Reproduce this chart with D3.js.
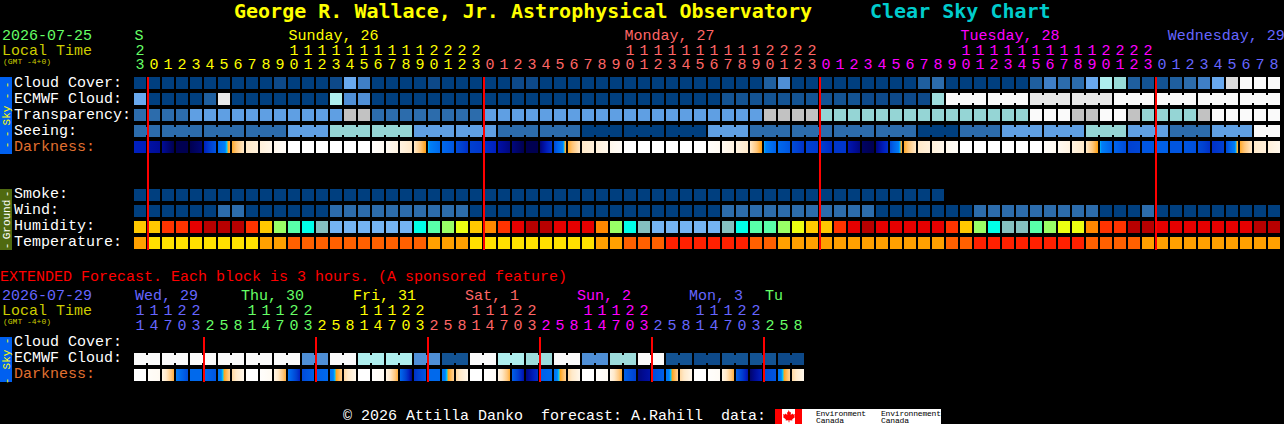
<!DOCTYPE html>
<html>
<head>
<meta charset="utf-8">
<title>Clear Sky Chart</title>
<script src="https://cdn.jsdelivr.net/npm/d3@7"></script>
<style>
html, body { margin: 0; padding: 0; background: #000; overflow: hidden; }
text { font-family: "Liberation Mono", "DejaVu Sans Mono", monospace; font-size: 15px; white-space: pre; }
.title { font-family: "DejaVu Sans Mono", monospace; }
</style>
</head>
<body>
<script>
// tick labels
var hourTicks = [23].concat(d3.range(24), d3.range(24), d3.range(24), d3.range(9));
var hourColors = [['#66ff66', 1], ['#ffff00', 24], ['#ff6666', 24], ['#ff00ff', 24], ['#6666ff', 9]];
var dayLabels = [
	['S', 0, '#66ff66'], ['Sunday, 26', 11, '#ffff00'], ['Monday, 27', 35, '#ff6666'],
	['Tuesday, 28', 59, '#ff00ff'], ['Wednesday, 29', 73.8, '#6666ff']
];
var extHourTicks = [11, 14, 17, 20, 23].concat(
	[2, 5, 8, 11, 14, 17, 20, 23], [2, 5, 8, 11, 14, 17, 20, 23], [2, 5, 8, 11, 14, 17, 20, 23],
	[2, 5, 8, 11, 14, 17, 20, 23], [2, 5, 8, 11, 14, 17, 20, 23], [2, 5, 8]);
var extHourColors = [['#6666ff', 5], ['#66ff66', 8], ['#ffff00', 8], ['#ff6666', 8], ['#ff00ff', 8], ['#6666ff', 8], ['#66ff66', 3]];
var extDayLabels = [
	['Wed, 29', 0.07, '#6666ff'], ['Thu, 30', 7.64, '#66ff66'], ['Fri, 31', 15.64, '#ffff00'], ['Sat, 1', 23.64, '#ff6666'],
	['Sun, 2', 31.64, '#ff00ff'], ['Mon, 3', 39.64, '#6666ff'], ['Tu', 45.07, '#66ff66']
];
var topRowNames = ['Cloud Cover:', 'ECMWF Cloud:', 'Transparency:', 'Seeing:', 'Darkness:'];
var groundRowNames = ['Smoke:', 'Wind:', 'Humidity:', 'Temperature:'];
var extRowNames = ['Cloud Cover:', 'ECMWF Cloud:', 'Darkness:'];
var midnightCols = [1, 25, 49, 73];
var extMidnightCols = [5, 13, 21, 29, 37, 45];

// hourly rows, one value a block
var cloudCover = [0,0,0,0,0,0,0,0,0,0, 5,0,0,0,5,50,30,0,0,0, 0,5,0,0,0,0,0,5,5,0,
	0,0,0,0,0,0,0,0,0,0, 0,0,0,0,0,15,40,0,0,0, 0,0,0,0,0,0,15,20,0,0,
	0,0,0,0,15,30,20,20,50,70, 60,15,10,10,15,20,30,50,85,100, 100,100];
var ecmwfHourly = [50,0,0,0,0,15,90,0,0,0, 0,0,0,0,70,40,40,0,0,0, 0,0,0,0,0,0,0,0,0,0,
	0,0,0,0,0,0,0,0,0,0, 0,0,10,10,10,10,10,10,10,10, 10,10,5,5,5,5,5,65];
var ecmwfBlocks = [100, 100, 90, 90, 100, 100, 100, 100];
var transparency = [1,1,1,1,2,2,2,2,2,2, 2,2,2,2,2,4,4,1,1,1, 1,1,1,1,1,2,2,2,2,2,
	2,2,2,2,2,2,2,2,2,2, 2,2,2,2,2,4,4,4,4,3, 3,3,3,3,3,3,3,3,3,3,
	3,3,3,3,5,5,5,4,4,5, 5,4,3,3,3,3,4,5,5,5, 5,5];
var seeingBlocks = [1,1,1,1,2,3,3,2,2,1, 1,0,0,0,2,1,1,1,1,0, 1,2,2,3,2,1,2,5];
var smoke = [0,0,0,0,0,0,0,0,0,0, 0,0,0,0,0,0,0,0,0,0, 0,0,0,0,0,0,0,0,0,0,
	0,0,0,0,0,0,0,0,0,0, 0,0,0,0,0,0,0,0,0,0, 0,0,0,0,0,0,0,0];
var wind = [0,0,0,0,0,0,1,1,0,0, 0,0,0,0,1,1,1,1,1,1, 1,1,1,1,0,0,0,0,0,0,
	0,0,0,0,0,0,0,0,0,0, 0,0,1,1,1,1,1,1,1,1, 1,1,1,0,0,0,0,0,0,0,
	1,1,1,1,1,1,1,1,1,0, 0,0,1,0,0,0,0,0,0,0, 0,0];
var humidity = [60,60,80,80,90,100,100,100,80,60, 50,45,40,35,30,30,30,30,30,30, 40,45,50,55,60,70,80,90,100,100,
	90,90,90,70,50,40,35,30,30,30, 30,30,35,40,45,45,50,55,60,60, 80,90,100,90,90,90,90,90,80,60,
	50,40,35,35,45,50,55,55,70,80, 80,100,100,90,90,90,90,90,90,90, 100,100];
var temperature = [1,0,0,0,0,0,0,0,0,1, 1,2,2,2,2,2,2,2,2,2, 2,1,1,1,0,0,0,0,0,0,
	0,0,0,1,1,2,2,2,3,3, 3,3,3,3,2,2,1,1,1,1, 1,1,1,1,1,1,1,1,2,2,
	3,3,3,3,3,3,3,3,2,2, 2,2,1,1,1,1,1,1,1,1, 1,1];
// darkness as limiting magnitude at the two edges of each block
var darkness = [[4.5,4.6],[5,5.2],[5.2,6],[6,6.2],[6,5.6],[4.5,2.5],[1.5,-0.6],[-0.4,-2],[-2,-2.5],[-2.5,-3],
	[-3,-3.5],[-4,-4],[-4,-4],[-4,-4],[-4,-4],[-4,-4],[-4,-4],[-3.7,-3.2],[-3.2,-2.7],[-2.7,-2],
	[-2,-0.2],[0,1.5],[1.5,2.5],[3,4],[3.5,3.8],[4,4.5],[5,5.5],[5.5,6],[6,6.2],[5.6,3.8],
	[3,-0.6],[-0.4,-2],[-2,-2.5],[-2.5,-3],[-3,-3.5],[-4,-4],[-4,-4],[-4,-4],[-4,-4],[-4,-4],
	[-4,-4],[-3.7,-3.2],[-3.2,-2.7],[-2.7,-2],[-2,-0.2],[0,2],[1.5,2.5],[3,4],[3.5,3.7],[3.5,4.2],
	[3.8,3.8],[4.8,5.5],[5.8,6],[5.5,4],[3,-0.6],[-0.4,-2],[-2,-2.5],[-2.5,-3],[-3,-3.5],[-4,-4],
	[-4,-4],[-4,-4],[-4,-4],[-4,-4],[-4,-4],[-3.7,-3.2],[-3.2,-2.7],[-2.7,-2],[-2,-0.2],[0,2],
	[1.8,3],[3.5,3.2],[2.5,2.5],[2,2],[2.5,2.5],[2.5,2.8],[3,4],[4,3.5],[3,-0.6],[-0.4,-2],
	[-2,-2.5],[-2.5,-3]];

// extended forecast, 3 hour blocks
var extEcmwfBlocks = [100,100,100,100,100,100,40,100,70,70, 40,10,100,70,65,100,40,65,100,10, 5,10,10,5];
var extDarkness = [[-4,-4],[-3.6,-3.2],[-2.8,-0.5],[0.5,3],[1.5,1.5],[1.5,2.5],[0.8,-1.3],[-1.5,-3],
	[-4,-4],[-3.8,-3.2],[-2.8,-0.5],[1,4.5],[3,2],[2,1.5],[0.8,-1.2],[-1.5,-3],
	[-4,-4],[-3.8,-3.3],[-2.8,-0.5],[1.5,5.5],[4,2.5],[1.5,1.5],[0.8,-1.3],[-1.5,-3],
	[-4,-4],[-4,-3.4],[-2.8,-0.5],[2,5],[5.5,4],[2,1.5],[0.8,-1.3],[-1.5,-3],
	[-4,-4],[-3.8,-3.3],[-2.8,-0.5],[2,3.5],[5.5,5],[3,2],[0.8,-1.3],[-1.5,-3],
	[-4,-4],[-3.8,-3.4],[-2.8,-0.5],[2,5],[5.7,4.5],[3,2.5],[0.8,-1.3],[-1.5,-3]];

var cloudScale = d3.scaleOrdinal()
	.domain([0, 5, 10, 15, 20, 30, 40, 50, 60, 65, 70, 85, 90, 100])
	.range(['#003f7f', '#0d4989', '#135393', '#1f5f9f', '#2c6cac', '#3f7fc7', '#4f8fd6', '#69a9ef', '#98dcd8', '#9ddcdc', '#aeeeee', '#dcdcdc', '#e8e8e8', '#fafafa']);
var skyScale = d3.scaleOrdinal()
	.domain([0, 1, 2, 3, 4, 5])
	.range(['#003f7f', '#2c6cac', '#5f9fe3', '#95d5d5', '#c2c2c2', '#fafafa']);
var humidityScale = d3.scaleOrdinal()
	.domain([30, 35, 40, 45, 50, 55, 60, 70, 80, 90, 100])
	.range(['#74b3f3', '#84bfbf', '#00ffe8', '#59ffa9', '#99ff66', '#ecff12', '#ffc800', '#ff8800', '#ff3300', '#e60000', '#b80000']);
var temperatureScale = d3.scaleOrdinal()
	.domain([0, 1, 2, 3])
	.range(['#ffe000', '#ffa000', '#ff6000', '#ff2000']);
var darknessScale = d3.scaleLinear()
	.domain([-4, -3.2, -2, -1, -0.2, -0.1, 0.2, 2, 3.5, 4.5, 5.2, 6])
	.range(['#ffffff', '#fffaf2', '#ffe9c9', '#ffc67a', '#ffa010', '#00e0ff', '#0080f8', '#0060e8', '#0040d0', '#0020c0', '#000c98', '#000050'])
	.clamp(true);

var blockSize = 12;
var x = d3.scaleLinear().domain([0, 1]).range([134, 148]);
var topY = d3.scaleLinear().domain([0, 1]).range([77, 93]);
var groundY = d3.scaleLinear().domain([0, 1]).range([189, 205]);
var extY = d3.scaleLinear().domain([0, 1]).range([337, 353]);

var svg = d3.select('body').append('svg')
	.attr('width', 1284)
	.attr('height', 424)
	.style('display', 'block');
var defs = svg.append('defs');
var gradientCount = 0;

function drawRow(values, color, y, startCol) {
	var first = startCol || 0;
	svg.append('g').selectAll('rect')
		.data(values)
		.enter()
		.append('rect')
		.attr('x', (d, i) => x(first + i))
		.attr('y', y)
		.attr('width', blockSize)
		.attr('height', blockSize)
		.attr('fill', d => color(d));
}

// forecast blocks longer than one column: squares joined by a narrow waist
function drawBlocks(values, spans, color, y, startCol) {
	var col = startCol;
	values.forEach(function (value, i) {
		var span = spans(i);
		drawRow(d3.range(span).map(() => value), color, y, col);
		svg.append('rect')
			.attr('x', x(col))
			.attr('y', y + 2)
			.attr('width', x(col + span - 1) + blockSize - x(col))
			.attr('height', blockSize - 4)
			.attr('fill', color(value));
		col += span;
	});
}

function drawDarkness(values, y) {
	values.forEach(function (edges, i) {
		var id = 'dark' + (gradientCount++);
		var gradient = defs.append('linearGradient').attr('id', id);
		d3.range(13).forEach(function (k) {
			gradient.append('stop')
				.attr('offset', k / 12)
				.attr('stop-color', darknessScale(edges[0] + (edges[1] - edges[0]) * k / 12));
		});
		svg.append('rect')
			.attr('x', x(i))
			.attr('y', y)
			.attr('width', blockSize)
			.attr('height', blockSize)
			.attr('fill', 'url(#' + id + ')');
	});
}

function label(string, px, py, fill, size, weight) {
	return svg.append('text')
		.attr('x', px)
		.attr('y', py)
		.attr('fill', fill)
		.style('font-size', (size || 15) + 'px')
		.style('font-weight', weight || 'normal')
		.text(string);
}

function expandColors(spec) {
	var out = [];
	spec.forEach(s => d3.range(s[1]).forEach(() => out.push(s[0])));
	return out;
}

function drawTicks(ticks, colors, tensY, unitsY) {
	var tickColors = expandColors(colors);
	ticks.forEach(function (h, i) {
		var tx = x(i) + 6;
		if (h >= 10) label(String(Math.floor(h / 10)), tx, tensY, tickColors[i]).attr('text-anchor', 'middle');
		label(String(h % 10), tx, unitsY, tickColors[i]).attr('text-anchor', 'middle');
	});
}

function sideBar(y, height, fill, textFill, word, dashes) {
	svg.append('rect').attr('x', 0).attr('y', y).attr('width', 12).attr('height', height).attr('fill', fill);
	dashes.concat([[word, y + height / 2]]).forEach(function (t) {
		svg.append('text')
			.attr('transform', 'translate(10,' + t[1] + ') rotate(-90)')
			.attr('text-anchor', 'middle')
			.attr('fill', textFill)
			.style('font-size', '11px')
			.text(t[0]);
	});
}

// titles
label('George R. Wallace, Jr. Astrophysical Observatory', 234, 18, '#ffff00', 20, 'bold').attr('class', 'title');
label('Clear Sky Chart', 870, 18, '#00cccc', 20, 'bold').attr('class', 'title');

// top chart heading
label('2026-07-25', 2, 40, '#66ff66');
label('Local Time', 2, 55, '#cccc00');
label('(GMT -4+0)', 3, 64, '#cccc00', 8);
dayLabels.forEach(d => label(d[0], x(d[1]) + 0.5, 40, d[2]));
drawTicks(hourTicks, hourColors, 55, 69);

sideBar(77, 77, '#0060f0', '#ffff00', 'Sky', [['-', 85], ['-', 96], ['-', 134], ['-', 145]]);
sideBar(189, 61, '#4f6a10', '#ffffff', 'Ground', [['-', 194], ['-', 246]]);
sideBar(337, 45, '#0060f0', '#ffff00', 'Sky', [['-', 341], ['-', 381]]);

topRowNames.forEach((name, i) => label(name, 14, topY(i) + 10, name === 'Darkness:' ? '#e07030' : '#ffffff'));
groundRowNames.forEach((name, i) => label(name, 14, groundY(i) + 9, '#ffffff'));

drawRow(cloudCover, cloudScale, topY(0));
drawRow(ecmwfHourly, cloudScale, topY(1));
drawBlocks(ecmwfBlocks, () => 3, cloudScale, topY(1), ecmwfHourly.length);
drawRow(transparency, skyScale, topY(2));
drawBlocks(seeingBlocks, i => (i === 0 || i === seeingBlocks.length - 1) ? 2 : 3, skyScale, topY(3), 0);
drawDarkness(darkness, topY(4));
drawRow(smoke, skyScale, groundY(0));
drawRow(wind, skyScale, groundY(1));
drawRow(humidity, humidityScale, groundY(2));
drawRow(temperature, temperatureScale, groundY(3));

midnightCols.forEach(function (c) {
	svg.append('rect').attr('x', x(c) - 1).attr('y', 77).attr('width', 2).attr('height', 173).attr('fill', '#ff0000');
});

// extended forecast
label('EXTENDED Forecast. Each block is 3 hours. (A sponsored feature)', 0, 281, '#ff0000');
label('2026-07-29', 2, 300, '#6666ff');
label('Local Time', 2, 315, '#cccc00');
label('(GMT -4+0)', 3, 324, '#cccc00', 8);
extDayLabels.forEach(d => label(d[0], x(d[1]), 300, d[2]));
drawTicks(extHourTicks, extHourColors, 315, 330);
extRowNames.forEach((name, i) => label(name, 14, extY(i) + 9, name === 'Darkness:' ? '#e07030' : '#ffffff'));
drawBlocks(extEcmwfBlocks, () => 2, cloudScale, extY(1), 0);
drawDarkness(extDarkness, extY(2));
extMidnightCols.forEach(function (c) {
	svg.append('rect').attr('x', x(c) - 1).attr('y', 337).attr('width', 2).attr('height', 45).attr('fill', '#ff0000');
});

// footer
label('\u00a9 2026 Attilla Danko  forecast: A.Rahill  data:', 343, 419.6, '#ffffff');
svg.append('rect').attr('x', 775).attr('y', 409).attr('width', 166).attr('height', 15).attr('fill', '#ffffff');
svg.append('rect').attr('x', 775).attr('y', 409).attr('width', 7).attr('height', 15).attr('fill', '#ff0000');
svg.append('rect').attr('x', 795).attr('y', 409).attr('width', 7).attr('height', 15).attr('fill', '#ff0000');
svg.append('path')
	.attr('d', 'M788.5 410l1.5 2.5 1-.5-.3 3 1.8-1.6.6 1.2 2-.3-.8 2 .8.7-3 2.4.3 1.2-3-.4v2h-.8v-2l-3 .4.3-1.2-3-2.4.8-.7-.8-2 2 .3.6-1.2 1.8 1.6-.3-3 1 .5z')
	.attr('fill', '#ff0000');
label('Environment', 816, 416, '#000000', 8).attr('textLength', 50);
label('Environnement', 881, 416, '#000000', 8).attr('textLength', 60);
label('Canada', 816, 423, '#000000', 8).attr('textLength', 28);
label('Canada', 881, 423, '#000000', 8).attr('textLength', 28);
</script>
</body>
</html>
